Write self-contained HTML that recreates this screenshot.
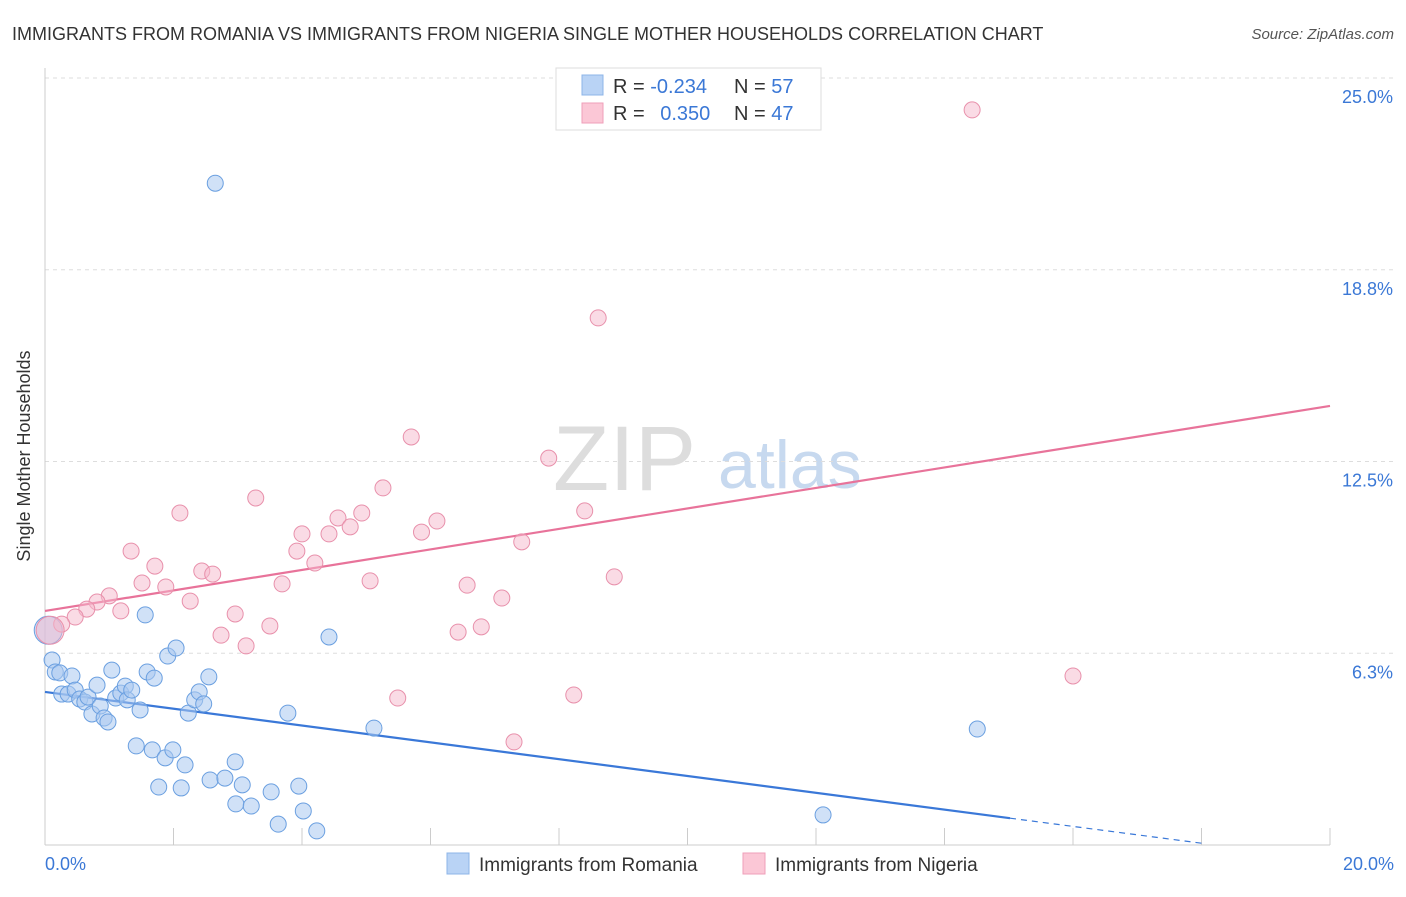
<!DOCTYPE html>
<html><head><meta charset="utf-8"><style>
body{margin:0;background:#fff;font-family:"Liberation Sans",sans-serif}
svg text{font-family:"Liberation Sans",sans-serif}
</style></head><body>
<svg id="chart" width="1406" height="892" xmlns="http://www.w3.org/2000/svg">
<text x="12" y="40" font-size="18" fill="#333">IMMIGRANTS FROM ROMANIA VS IMMIGRANTS FROM NIGERIA SINGLE MOTHER HOUSEHOLDS CORRELATION CHART</text>
<text x="1394" y="39" font-size="15" fill="#555" font-style="italic" text-anchor="end">Source: ZipAtlas.com</text>
<g><text x="553" y="490" font-size="92" fill="#ddd" font-family="Liberation Serif">ZIP</text><text x="718" y="488" font-size="68" fill="#c7d9ef">atlas</text></g>
<g id="grid"></g><g id="axes"></g><g id="lines"></g><g id="pts"></g>
<text x="30" y="456" font-size="18" fill="#333" text-anchor="middle" transform="rotate(-90 30 456)">Single Mother Households</text>
<g>
<rect x="556" y="68" width="265" height="62" fill="#fff" stroke="#ddd"/>
<rect x="582" y="75" width="21" height="20" fill="#b9d3f5" stroke="#8db4e8"/>
<rect x="582" y="103" width="21" height="20" fill="#fbc7d6" stroke="#ef9fb9"/>
<text x="613" y="93" font-size="20" fill="#333">R = <tspan fill="#3b78d6">-0.234</tspan></text>
<text x="734" y="93" font-size="20" fill="#333">N = <tspan fill="#3b78d6">57</tspan></text>
<text x="613" y="120" font-size="20" fill="#333">R = <tspan fill="#3b78d6" dx="10">0.350</tspan></text>
<text x="734" y="120" font-size="20" fill="#333">N = <tspan fill="#3b78d6">47</tspan></text>
</g>
<g>
<rect x="447" y="853" width="22" height="21" fill="#b9d3f5" stroke="#8db4e8"/>
<text x="479" y="871" font-size="19" fill="#333">Immigrants from Romania</text>
<rect x="743" y="853" width="22" height="21" fill="#fbc7d6" stroke="#ef9fb9"/>
<text x="775" y="871" font-size="19" fill="#333">Immigrants from Nigeria</text>
</g>
</svg>
<script>
const blueX=[2.65,0.11,0.16,0.23,0.42,0.26,0.36,0.47,0.54,0.62,0.67,0.73,0.81,0.86,0.92,0.98,1.04,1.10,1.18,1.25,1.28,1.35,1.48,1.42,1.56,1.59,1.67,1.70,1.77,1.87,1.91,1.99,2.04,2.12,2.18,2.23,2.33,2.40,2.47,2.55,2.57,2.80,2.96,2.97,3.07,3.21,3.52,3.63,3.78,3.95,4.02,4.23,4.42,5.12,14.51,12.11,0.05];
const blueY=[21.57,6.03,5.64,5.61,5.51,4.92,4.92,5.05,4.76,4.66,4.82,4.27,5.21,4.53,4.14,4.01,5.70,4.79,4.95,5.18,4.73,5.05,4.40,3.23,7.50,5.64,3.10,5.44,1.89,2.84,6.16,3.10,6.42,1.86,2.61,4.30,4.73,4.99,4.60,5.48,2.12,2.18,2.71,1.34,1.96,1.27,1.73,0.68,4.30,1.92,1.11,0.46,6.78,3.81,3.78,0.98,7.0];
const pinkX=[14.43,8.61,5.70,7.84,5.26,3.28,2.10,8.40,4.93,6.10,4.56,4.75,5.86,4.00,4.42,7.42,1.34,3.92,4.20,1.71,2.44,2.61,1.51,1.88,3.69,5.06,8.86,6.57,7.11,1.00,0.81,2.26,0.65,1.18,2.96,0.47,0.26,3.50,6.79,6.43,2.74,3.13,5.49,8.23,7.30,16.00,0.08];
const pinkY=[23.96,17.18,13.30,12.61,11.64,11.31,10.82,10.89,10.82,10.56,10.66,10.37,10.20,10.14,10.14,9.88,9.58,9.58,9.19,9.09,8.93,8.83,8.54,8.41,8.51,8.61,8.74,8.47,8.05,8.12,7.92,7.95,7.69,7.63,7.53,7.43,7.20,7.14,7.11,6.94,6.84,6.49,4.79,4.89,3.36,5.51,7.0];
const yTicks=[25.0,18.8,12.5,6.3];
const yTickVals=[25,18.75,12.5,6.25];
const xTickLabels=["0.0%","20.0%"];
const blueTrend=[4.99,-0.274];
const pinkTrend=[7.63,0.334];
const X=v=>45+v*64.25, Y=v=>845-v*30.68;
const NS="http://www.w3.org/2000/svg";
function mk(t,a,p){const e=document.createElementNS(NS,t);for(const k in a)e.setAttribute(k,a[k]);document.getElementById(p).appendChild(e);return e;}
yTickVals.forEach((v,i)=>{
 const l=mk('line',{x1:45,x2:1394,y1:Y(v),y2:Y(v),stroke:'#ddd','stroke-dasharray':'4,4'},'grid');
 
 
 const t=mk('text',{x:1393,y:Y(v)+25,'font-size':18,fill:'#3b78d6','text-anchor':'end'},'grid');t.textContent=yTicks[i].toFixed(1)+'%';
 
 
});
const ax=mk('line',{x1:45,x2:1330,y1:845,y2:845,stroke:'#ccc'},'axes');


const ay=mk('line',{x1:45,x2:45,y1:68,y2:845,stroke:'#ccc'},'axes');


for(let i=0;i<=10;i++){const t=mk('line',{x1:X(i*2),x2:X(i*2),y1:828,y2:845,stroke:'#ccc'},'axes');
 
 }
[[0,'start',45],[20,'end',1394]].forEach((d,i)=>{const t=mk('text',{x:d[2],y:870,'font-size':18,fill:'#3b78d6','text-anchor':d[1]},'axes');t.textContent=xTickLabels[i];
 
 });
blueX.forEach((x,i)=>{const c=mk('circle',{cx:X(x),cy:Y(blueY[i]),r:i==56?14:8,fill:'#a9c8f0','fill-opacity':0.55,stroke:'#6a9fe0','stroke-width':1},'pts');
 
 });
pinkX.forEach((x,i)=>{const c=mk('circle',{cx:X(x),cy:Y(pinkY[i]),r:i==46?14:8,fill:'#f6b8cb','fill-opacity':0.5,stroke:'#e890ab','stroke-width':1},'pts');
 
 });
const bt=v=>blueTrend[0]+blueTrend[1]*v, pt=v=>pinkTrend[0]+pinkTrend[1]*v;
const b1=mk('line',{x1:X(0),y1:Y(bt(0)),x2:X(15.02),y2:Y(bt(15.02)),stroke:'#3a78d8','stroke-width':2.2},'lines');


const b2=mk('line',{x1:X(15.02),y1:Y(bt(15.02)),x2:X(18),y2:Y(bt(18)),stroke:'#3a78d8','stroke-width':1.2,'stroke-dasharray':'6,5'},'lines');


const p1=mk('line',{x1:X(0),y1:Y(pt(0)),x2:X(20),y2:Y(pt(20)),stroke:'#e8739a','stroke-width':2.2},'lines');


</script>
</body></html>
